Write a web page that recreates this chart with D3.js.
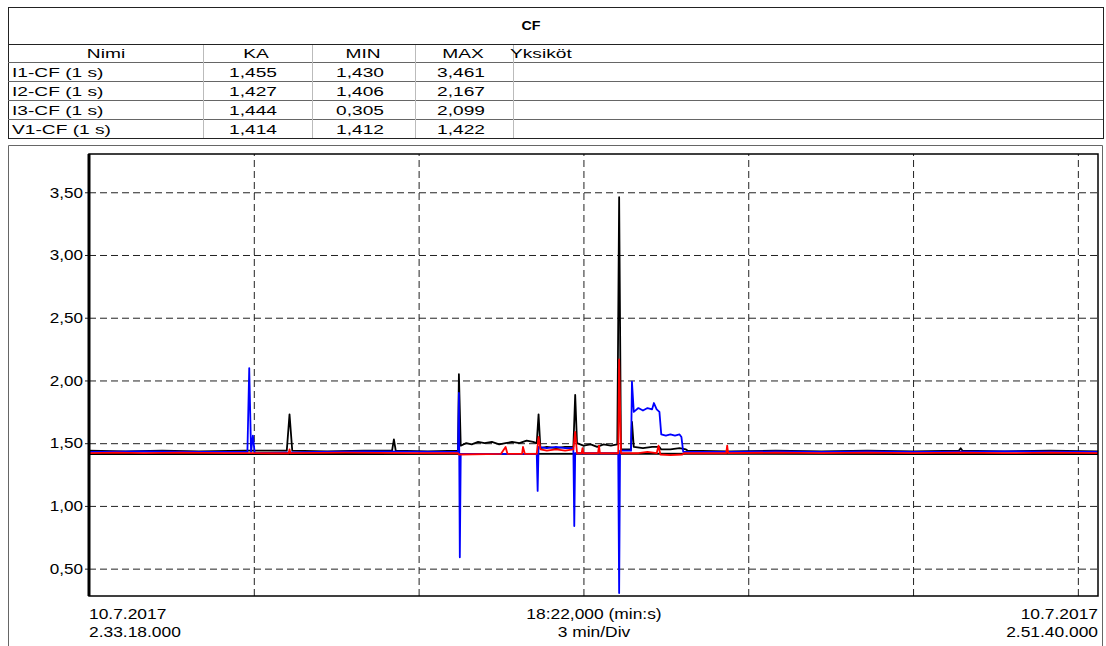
<!DOCTYPE html>
<html>
<head>
<meta charset="utf-8">
<script src="https://cdn.jsdelivr.net/npm/d3@7"></script>
<style>
  body { margin: 0; background: #fff; }
  svg { font-family: "Liberation Sans", Arial, sans-serif; }
</style>
</head>
<body>
<svg id="chart" width="1106" height="646"></svg>
<script>
// table values
const columns = ['Nimi', 'KA', 'MIN', 'MAX', 'Yksiköt']
const names = ['I1-CF (1 s)', 'I2-CF (1 s)', 'I3-CF (1 s)', 'V1-CF (1 s)']
const kaValues = ['1,455', '1,427', '1,444', '1,414']
const minValues = ['1,430', '1,406', '0,305', '1,412']
const maxValues = ['3,461', '2,167', '2,099', '1,422']

// time in seconds from 2.33.18, value
const i1 = [[0,1.44],[40,1.435],[80,1.44],[120,1.435],[170,1.44],[216,1.44],[219,1.73],[222,1.44],[260,1.435],[300,1.44],
  [331,1.44],[333,1.53],[335,1.44],[370,1.435],[403,1.44],[404,2.05],[406,1.48],[412,1.50],[418,1.49],[425,1.51],[432,1.50],
  [440,1.51],[448,1.49],[455,1.50],[462,1.51],[470,1.50],[478,1.52],[485,1.51],[489,1.50],[491,1.73],[493,1.46],[500,1.47],
  [510,1.46],[520,1.47],[529,1.47],[531,1.885],[533,1.50],[540,1.48],[548,1.49],[555,1.47],[562,1.49],[570,1.48],[577,1.49],
  [579,3.461],[581,1.45],[590,1.45],[592,1.45],[593,1.67],[595,1.47],[605,1.46],[615,1.47],[623,1.47],[625,1.45],[635,1.45],
  [645,1.46],[652,1.45],[654,1.44],[700,1.435],[750,1.44],[800,1.435],[850,1.44],[900,1.435],[950,1.44],[952,1.46],[954,1.44],
  [1000,1.435],[1050,1.44],[1102,1.435]]
const i2 = [[0,1.42],[30,1.425],[60,1.42],[100,1.425],[150,1.42],[200,1.42],[218,1.42],[219,1.45],[220,1.42],[280,1.425],
  [350,1.42],[403,1.42],[404,1.41],[450,1.415],[455,1.47],[457,1.415],[473,1.415],[474,1.47],[476,1.415],[489,1.415],[491,1.55],
  [493,1.45],[500,1.44],[510,1.45],[520,1.44],[529,1.45],[531,1.59],[533,1.42],[538,1.42],[539,1.46],[540,1.42],[556,1.42],
  [557,1.48],[558,1.42],[578,1.42],[579,2.167],[581,1.42],[600,1.42],[610,1.43],[620,1.42],[622,1.48],[624,1.41],[635,1.405],
  [648,1.41],[650,1.42],[696,1.42],[697,1.48],[698,1.42],[750,1.425],[800,1.42],[850,1.425],[900,1.42],[950,1.425],[1000,1.42],
  [1050,1.425],[1102,1.42]]
const i3 = [[0,1.43],[60,1.435],[120,1.43],[173,1.43],[175,2.099],[177,1.43],[179,1.56],[181,1.42],[250,1.43],[300,1.435],
  [403,1.43],[404,1.90],[405,0.59],[406,1.415],[489,1.415],[490,1.12],[491,1.47],[500,1.46],[510,1.47],[520,1.46],[529,1.46],
  [530,0.84],[531,1.42],[578,1.42],[579,0.305],[580,1.44],[592,1.44],[593,1.99],[595,1.75],[600,1.78],[605,1.76],[610,1.78],
  [615,1.77],[617,1.82],[620,1.77],[623,1.75],[625,1.57],[630,1.56],[635,1.57],[640,1.56],[645,1.57],[647,1.55],[649,1.43],
  [700,1.43],[750,1.435],[800,1.43],[850,1.435],[900,1.43],[1000,1.435],[1102,1.43]]
const v1 = [[0,1.414],[300,1.414],[600,1.416],[900,1.414],[1102,1.414]]

const yTicks = [0.5, 1.0, 1.5, 2.0, 2.5, 3.0, 3.5]
const xGrid = [180, 360, 540, 720, 900, 1080]

const svg = d3.select('#chart')
const fi = d3.formatLocale({decimal: ',', thousands: ' ', grouping: [3], currency: ['', '']})

// the source text is drawn wider than normal, so stretch it horizontally
function label(g, x, y, txt, anchor, size, sx) {
    return g.append('text')
        .attr('transform', `translate(${x},${y}) scale(${sx},1)`)
        .attr('text-anchor', anchor || 'start')
        .attr('font-size', size)
        .text(txt)
}

// ---- header table
const tL = 8, tR = 1103
const colX = [8, 203, 312, 415, 513]
const rowY = [62, 81, 100, 119, 138]

svg.append('rect').attr('x', tL + 0.5).attr('y', 7.5).attr('width', tR - tL).attr('height', 131)
    .attr('fill', 'none').attr('stroke', '#222')
svg.append('line').attr('x1', tL).attr('x2', tR).attr('y1', 44.5).attr('y2', 44.5).attr('stroke', '#222')
label(svg, 531, 30, 'CF', 'middle', 13, 1.1).attr('font-weight', 'bold')

rowY.slice(0, 4).forEach(y => {
    svg.append('line').attr('x1', tL).attr('x2', tR).attr('y1', y + 0.5).attr('y2', y + 0.5)
        .attr('stroke', '#666')
})
colX.slice(1).forEach(x => {
    svg.append('line').attr('x1', x + 0.5).attr('x2', x + 0.5).attr('y1', 45).attr('y2', 138)
        .attr('stroke', '#bbb')
})

const head = svg.append('g').attr('fill', '#000')
const fs = 13.5, sxT = 1.42
label(head, 106, 58, columns[0], 'middle', fs, sxT)
label(head, 256, 58, columns[1], 'middle', fs, sxT)
label(head, 363, 58, columns[2], 'middle', fs, sxT)
label(head, 463, 58, columns[3], 'middle', fs, sxT)
label(head, 510, 58, columns[4], 'start', fs, sxT)

names.forEach((n, i) => {
    const y = rowY[i] + 15
    label(head, 12, y, n, 'start', fs, sxT)
    label(head, 253, y, kaValues[i], 'middle', fs, sxT)
    label(head, 360, y, minValues[i], 'middle', fs, sxT)
    label(head, 461, y, maxValues[i], 'middle', fs, sxT)
})

// ---- chart frame
svg.append('path').attr('d', `M${tL + 0.5},646V145.5H${tR - 0.5}V646`)
    .attr('fill', 'none').attr('stroke', '#666')

const pLeft = 89, pRight = 1098, pTop = 154, pBottom = 596
const x = d3.scaleLinear().domain([0, 1102]).range([pLeft, pRight])
const y = d3.scaleLinear().domain([0.282, 3.805]).range([pBottom, pTop])

// grid
const gy = svg.append('g').attr('transform', `translate(${pLeft},0)`)
    .call(d3.axisLeft(y).tickValues(yTicks).tickSize(-(pRight - pLeft)).tickPadding(6)
        .tickFormat(fi.format('.2f')))
gy.select('.domain').remove()
gy.selectAll('.tick line').attr('stroke', '#222').attr('stroke-dasharray', '7,4')
gy.selectAll('.tick text').attr('font-size', 15).attr('fill', '#000')
    .attr('font-family', '"Liberation Sans", Arial, sans-serif')
    .attr('x', 0).attr('transform', 'translate(-6,0) scale(1.14,1)')
gy.selectAll('.tick').append('line').attr('x1', -4).attr('x2', 0).attr('stroke', '#222')

const gx = svg.append('g').attr('transform', `translate(0,${pBottom})`)
    .call(d3.axisBottom(x).tickValues(xGrid).tickSize(-(pBottom - pTop)).tickFormat(''))
gx.select('.domain').remove()
gx.selectAll('.tick line').attr('stroke', '#222').attr('stroke-dasharray', '7,4')

// series
const line = d3.line().x(d => x(d[0])).y(d => y(d[1]))
const plot = svg.append('g')
const series = [{data: v1, color: '#000'}, {data: i1, color: '#000'},
    {data: i3, color: '#0000ff'}, {data: i2, color: '#ff0000'}]
series.forEach(s => {
    plot.append('path').datum(s.data).attr('d', line)
        .attr('fill', 'none').attr('stroke', s.color).attr('stroke-width', 1.8)
        .attr('stroke-linejoin', 'round')
})

// plot box
svg.append('rect').attr('x', pLeft).attr('y', pTop).attr('width', pRight - pLeft).attr('height', pBottom - pTop)
    .attr('fill', 'none').attr('stroke', '#000').attr('stroke-width', 1.5)
svg.append('line').attr('x1', pLeft).attr('x2', pLeft).attr('y1', pTop).attr('y2', pBottom)
    .attr('stroke', '#000').attr('stroke-width', 3)

// bottom labels
const lab = svg.append('g').attr('fill', '#000')
const sxB = 1.16
label(lab, pLeft, 619, '10.7.2017', 'start', 15, sxB)
label(lab, pLeft, 637, '2.33.18.000', 'start', 15, sxB)
label(lab, 594, 619, '18:22,000 (min:s)', 'middle', 15, sxB)
label(lab, 594, 637, '3 min/Div', 'middle', 15, sxB)
label(lab, pRight, 619, '10.7.2017', 'end', 15, sxB)
label(lab, pRight, 637, '2.51.40.000', 'end', 15, sxB)
</script>
</body>
</html>
